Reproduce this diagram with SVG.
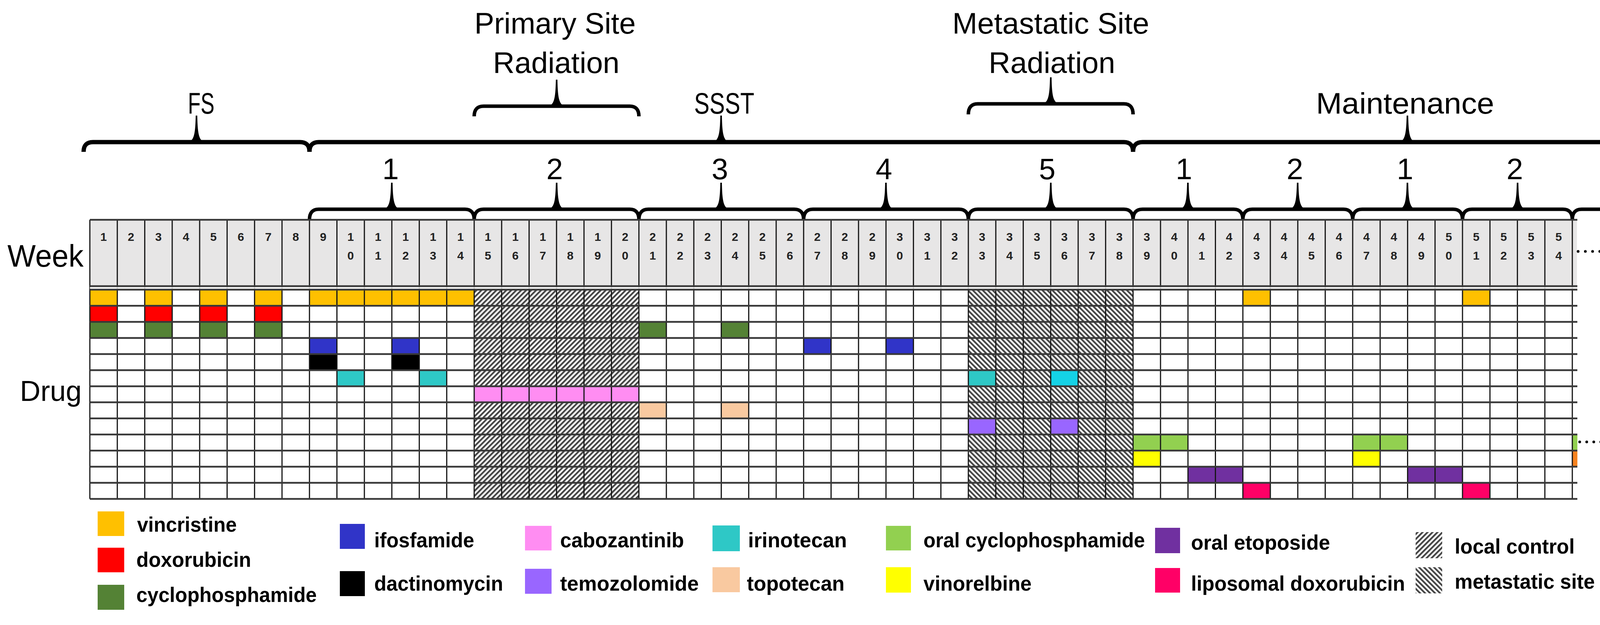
<svg xmlns="http://www.w3.org/2000/svg" width="4366" height="1601" viewBox="0 0 4366 1601">
<style>
.lbl{font-family:"Liberation Sans",Arial,sans-serif;font-size:76px;text-anchor:middle;fill:#000}
.side{font-family:"Liberation Sans",Arial,sans-serif;fill:#000}
.wk{font-family:"Liberation Sans",Arial,sans-serif;font-size:30px;font-weight:bold;text-anchor:middle;fill:#222}
.lg{font-family:"Liberation Sans",Arial,sans-serif;font-size:54px;font-weight:bold;fill:#000}
.br{fill:none;stroke:#000;stroke-width:9}
.big{stroke-width:11}
.hl{fill:none;stroke:#383838;stroke-width:4.5}
.vl{fill:none;stroke:#161616;stroke-width:3}
.hdr{fill:#E7E6E6}
.vin{fill:#FFC000}.dox{fill:#FF0000}.cyc{fill:#548235}.ifo{fill:#3034C8}.dac{fill:#000}
.iri{fill:#2EC8C6}.iri2{fill:#14D2E6}.cab{fill:#FF8DF2}.top{fill:#F9C9A0}.tem{fill:#9966FF}
.ocy{fill:#92D050}.vnr{fill:#FFFF00}.eto{fill:#7030A0}.lip{fill:#FF0066}.org{fill:#F5821F}
</style>
<defs>
<path id="tip" d="M-24,2 C-8,-4 -3,-12 -2,-68 L2,-68 C3,-12 8,-4 24,2 Z" fill="#000"/>
<pattern id="hLocal" patternUnits="userSpaceOnUse" width="9" height="9" patternTransform="rotate(45)"><rect width="9" height="9" fill="#fff"/><rect width="4.5" height="9" fill="#444"/></pattern>
<pattern id="hMeta" patternUnits="userSpaceOnUse" width="9" height="9" patternTransform="rotate(-45)"><rect width="9" height="9" fill="#fff"/><rect width="4.5" height="9" fill="#444"/></pattern>
</defs>
<rect width="4366" height="1601" fill="#fff"/>

<g id="phase-fs">
<path class="br big" d="M214,389 Q214,364 238,364 L768,364 Q792.24,364 792.24,389"/>
<use href="#tip" x="503" y="364"/>
<text class="lbl" x="515" y="291" textLength="68" lengthAdjust="spacingAndGlyphs">FS</text>
</g>
<g id="phase-primary-radiation">
<path class="br" d="M1213.92,298 Q1213.92,272 1238,272 L1612,272 Q1635.6,272 1635.6,298"/>
<use href="#tip" x="1425" y="272"/>
<text class="lbl" x="1421" y="86" textLength="413" lengthAdjust="spacingAndGlyphs">Primary Site</text>
<text class="lbl" x="1424" y="187" textLength="324" lengthAdjust="spacingAndGlyphs">Radiation</text>
</g>
<g id="phase-ssst">
<path class="br big" d="M792.24,389 Q792.24,364 816,364 L2877,364 Q2900.64,364 2900.64,389"/>
<use href="#tip" x="1846" y="364"/>
<text class="lbl" x="1854" y="291" textLength="154" lengthAdjust="spacingAndGlyphs">SSST</text>
</g>
<g id="phase-metastatic-radiation">
<path class="br" d="M2478.96,293 Q2478.96,266 2503,266 L2877,266 Q2900.64,266 2900.64,293"/>
<use href="#tip" x="2690" y="266"/>
<text class="lbl" x="2690" y="86" textLength="504" lengthAdjust="spacingAndGlyphs">Metastatic Site</text>
<text class="lbl" x="2693" y="187" textLength="324" lengthAdjust="spacingAndGlyphs">Radiation</text>
</g>
<g id="phase-maintenance">
<path class="br big" d="M2900.64,389 Q2900.64,364 2925,364 L4282,364 Q4306,364 4306,389"/>
<use href="#tip" x="3603" y="364"/>
<text class="lbl" x="3597" y="291" textLength="456" lengthAdjust="spacingAndGlyphs">Maintenance</text>
</g>

<g id="cycle-ssst-1"><path class="br" d="M792.24,563 Q792.24,536 816,536 L1190,536 Q1213.92,536 1213.92,563"/><use href="#tip" x="1003" y="536"/><text class="lbl" x="1000" y="459">1</text></g>
<g id="cycle-ssst-2"><path class="br" d="M1213.92,563 Q1213.92,536 1238,536 L1612,536 Q1635.6,536 1635.6,563"/><use href="#tip" x="1425" y="536"/><text class="lbl" x="1420" y="459">2</text></g>
<g id="cycle-ssst-3"><path class="br" d="M1635.6,563 Q1635.6,536 1660,536 L2033,536 Q2057.28,536 2057.28,563"/><use href="#tip" x="1846" y="536"/><text class="lbl" x="1843" y="459">3</text></g>
<g id="cycle-ssst-4"><path class="br" d="M2057.28,563 Q2057.28,536 2081,536 L2455,536 Q2478.96,536 2478.96,563"/><use href="#tip" x="2268" y="536"/><text class="lbl" x="2263" y="459">4</text></g>
<g id="cycle-ssst-5"><path class="br" d="M2478.96,563 Q2478.96,536 2503,536 L2877,536 Q2900.64,536 2900.64,563"/><use href="#tip" x="2690" y="536"/><text class="lbl" x="2681" y="459">5</text></g>
<g id="cycle-maint-1a"><path class="br" d="M2900.64,563 Q2900.64,536 2925,536 L3158,536 Q3181.76,536 3181.76,563"/><use href="#tip" x="3041" y="536"/><text class="lbl" x="3031" y="459">1</text></g>
<g id="cycle-maint-2a"><path class="br" d="M3181.76,563 Q3181.76,536 3206,536 L3439,536 Q3462.88,536 3462.88,563"/><use href="#tip" x="3322" y="536"/><text class="lbl" x="3315" y="459">2</text></g>
<g id="cycle-maint-1b"><path class="br" d="M3462.88,563 Q3462.88,536 3487,536 L3720,536 Q3744,536 3744,563"/><use href="#tip" x="3603" y="536"/><text class="lbl" x="3597" y="459">1</text></g>
<g id="cycle-maint-2b"><path class="br" d="M3744,563 Q3744,536 3768,536 L4001,536 Q4025.12,536 4025.12,563"/><use href="#tip" x="3885" y="536"/><text class="lbl" x="3878" y="459">2</text></g>
<g id="cycle-maint-2c"><path class="br" d="M4025.12,563 Q4025.12,536 4049,536 L4282,536 Q4306,536 4306,563"/><use href="#tip" x="4166" y="536"/><text class="lbl" x="4161" y="459">2</text></g>

<g id="row-labels">
<text class="side" x="19" y="683" font-size="80" textLength="195" lengthAdjust="spacingAndGlyphs">Week</text>
<text class="side" x="51" y="1027" font-size="75" textLength="158" lengthAdjust="spacingAndGlyphs">Drug</text>
</g>

<g id="week-header">
<rect class="hdr" x="230" y="563" width="3807" height="172"/>
<rect class="hdr" x="4148" y="563" width="159" height="172"/>
<line x1="4040" y1="644" x2="4156" y2="644" stroke="#000" stroke-width="7" stroke-linecap="round" stroke-dasharray="0 18.5"/>
<g class="wk">
<text x="265.14" y="617">1</text><text x="335.42" y="617">2</text><text x="405.7" y="617">3</text><text x="475.98" y="617">4</text><text x="546.26" y="617">5</text><text x="616.54" y="617">6</text><text x="686.82" y="617">7</text><text x="757.1" y="617">8</text><text x="827.38" y="617">9</text>
<text x="897.66" y="617">1<tspan x="897.66" dy="48">0</tspan></text>
<text x="967.94" y="617">1<tspan x="967.94" dy="48">1</tspan></text>
<text x="1038.22" y="617">1<tspan x="1038.22" dy="48">2</tspan></text>
<text x="1108.5" y="617">1<tspan x="1108.5" dy="48">3</tspan></text>
<text x="1178.78" y="617">1<tspan x="1178.78" dy="48">4</tspan></text>
<text x="1249.06" y="617">1<tspan x="1249.06" dy="48">5</tspan></text>
<text x="1319.34" y="617">1<tspan x="1319.34" dy="48">6</tspan></text>
<text x="1389.62" y="617">1<tspan x="1389.62" dy="48">7</tspan></text>
<text x="1459.9" y="617">1<tspan x="1459.9" dy="48">8</tspan></text>
<text x="1530.18" y="617">1<tspan x="1530.18" dy="48">9</tspan></text>
<text x="1600.46" y="617">2<tspan x="1600.46" dy="48">0</tspan></text>
<text x="1670.74" y="617">2<tspan x="1670.74" dy="48">1</tspan></text>
<text x="1741.02" y="617">2<tspan x="1741.02" dy="48">2</tspan></text>
<text x="1811.3" y="617">2<tspan x="1811.3" dy="48">3</tspan></text>
<text x="1881.58" y="617">2<tspan x="1881.58" dy="48">4</tspan></text>
<text x="1951.86" y="617">2<tspan x="1951.86" dy="48">5</tspan></text>
<text x="2022.14" y="617">2<tspan x="2022.14" dy="48">6</tspan></text>
<text x="2092.42" y="617">2<tspan x="2092.42" dy="48">7</tspan></text>
<text x="2162.7" y="617">2<tspan x="2162.7" dy="48">8</tspan></text>
<text x="2232.98" y="617">2<tspan x="2232.98" dy="48">9</tspan></text>
<text x="2303.26" y="617">3<tspan x="2303.26" dy="48">0</tspan></text>
<text x="2373.54" y="617">3<tspan x="2373.54" dy="48">1</tspan></text>
<text x="2443.82" y="617">3<tspan x="2443.82" dy="48">2</tspan></text>
<text x="2514.1" y="617">3<tspan x="2514.1" dy="48">3</tspan></text>
<text x="2584.38" y="617">3<tspan x="2584.38" dy="48">4</tspan></text>
<text x="2654.66" y="617">3<tspan x="2654.66" dy="48">5</tspan></text>
<text x="2724.94" y="617">3<tspan x="2724.94" dy="48">6</tspan></text>
<text x="2795.22" y="617">3<tspan x="2795.22" dy="48">7</tspan></text>
<text x="2865.5" y="617">3<tspan x="2865.5" dy="48">8</tspan></text>
<text x="2935.78" y="617">3<tspan x="2935.78" dy="48">9</tspan></text>
<text x="3006.06" y="617">4<tspan x="3006.06" dy="48">0</tspan></text>
<text x="3076.34" y="617">4<tspan x="3076.34" dy="48">1</tspan></text>
<text x="3146.62" y="617">4<tspan x="3146.62" dy="48">2</tspan></text>
<text x="3216.9" y="617">4<tspan x="3216.9" dy="48">3</tspan></text>
<text x="3287.18" y="617">4<tspan x="3287.18" dy="48">4</tspan></text>
<text x="3357.46" y="617">4<tspan x="3357.46" dy="48">5</tspan></text>
<text x="3427.74" y="617">4<tspan x="3427.74" dy="48">6</tspan></text>
<text x="3498.02" y="617">4<tspan x="3498.02" dy="48">7</tspan></text>
<text x="3568.3" y="617">4<tspan x="3568.3" dy="48">8</tspan></text>
<text x="3638.58" y="617">4<tspan x="3638.58" dy="48">9</tspan></text>
<text x="3708.86" y="617">5<tspan x="3708.86" dy="48">0</tspan></text>
<text x="3779.14" y="617">5<tspan x="3779.14" dy="48">1</tspan></text>
<text x="3849.42" y="617">5<tspan x="3849.42" dy="48">2</tspan></text>
<text x="3919.7" y="617">5<tspan x="3919.7" dy="48">3</tspan></text>
<text x="3989.98" y="617">5<tspan x="3989.98" dy="48">4</tspan></text>
<text x="4200.25" y="617">1<tspan x="4200.25" dy="48">0</tspan><tspan x="4200.25" dy="48">3</tspan></text>
<text x="4270.75" y="617">1<tspan x="4270.75" dy="48">0</tspan><tspan x="4270.75" dy="48">4</tspan></text>
</g>
</g>

<g id="drug-cells">
<rect id="local-control-area" x="1213.92" y="742" width="421.68" height="536" fill="url(#hLocal)"/>
<rect id="metastatic-control-area" x="2478.96" y="742" width="421.68" height="536" fill="url(#hMeta)"/>
<g class="vin">
<rect x="230" y="742" width="70.28" height="41.23"/><rect x="370.56" y="742" width="70.28" height="41.23"/><rect x="511.12" y="742" width="70.28" height="41.23"/><rect x="651.68" y="742" width="70.28" height="41.23"/>
<rect x="792.24" y="742" width="421.68" height="41.23"/>
<rect x="3181.76" y="742" width="70.28" height="41.23"/><rect x="3744" y="742" width="70.28" height="41.23"/>
</g>
<g class="dox">
<rect x="230" y="783.23" width="70.28" height="41.23"/><rect x="370.56" y="783.23" width="70.28" height="41.23"/><rect x="511.12" y="783.23" width="70.28" height="41.23"/><rect x="651.68" y="783.23" width="70.28" height="41.23"/>
</g>
<g class="cyc">
<rect x="230" y="824.46" width="70.28" height="41.23"/><rect x="370.56" y="824.46" width="70.28" height="41.23"/><rect x="511.12" y="824.46" width="70.28" height="41.23"/><rect x="651.68" y="824.46" width="70.28" height="41.23"/>
<rect x="1635.6" y="824.46" width="70.28" height="41.23"/><rect x="1846.44" y="824.46" width="70.28" height="41.23"/>
</g>
<g class="ifo">
<rect x="792.24" y="865.69" width="70.28" height="41.23"/><rect x="1003.08" y="865.69" width="70.28" height="41.23"/><rect x="2057.28" y="865.69" width="70.28" height="41.23"/><rect x="2268.12" y="865.69" width="70.28" height="41.23"/>
</g>
<g class="dac">
<rect x="792.24" y="906.92" width="70.28" height="41.23"/><rect x="1003.08" y="906.92" width="70.28" height="41.23"/>
</g>
<g class="iri">
<rect x="862.52" y="948.15" width="70.28" height="41.23"/><rect x="1073.36" y="948.15" width="70.28" height="41.23"/><rect x="2478.96" y="948.15" width="70.28" height="41.23"/>
</g>
<rect class="iri2" x="2689.8" y="948.15" width="70.28" height="41.23"/>
<rect class="cab" x="1213.92" y="989.38" width="421.68" height="41.23"/>
<g class="top">
<rect x="1635.6" y="1030.61" width="70.28" height="41.23"/><rect x="1846.44" y="1030.61" width="70.28" height="41.23"/>
</g>
<g class="tem">
<rect x="2478.96" y="1071.84" width="70.28" height="41.23"/><rect x="2689.8" y="1071.84" width="70.28" height="41.23"/>
</g>
<g class="ocy">
<rect x="2900.64" y="1113.07" width="140.56" height="41.23"/><rect x="3462.88" y="1113.07" width="140.56" height="41.23"/>
<rect x="4025.12" y="1113.07" width="13" height="41.23"/><rect x="4148" y="1113.07" width="17" height="41.23"/>
</g>
<g class="vnr">
<rect x="2900.64" y="1154.3" width="70.28" height="41.23"/><rect x="3462.88" y="1154.3" width="70.28" height="41.23"/>
</g>
<rect class="org" x="4025.12" y="1154.3" width="13" height="41.23"/>
<g class="eto">
<rect x="3041.2" y="1195.53" width="140.56" height="41.23"/><rect x="3603.44" y="1195.53" width="140.56" height="41.23"/><rect x="4165" y="1195.53" width="141" height="41.23"/>
</g>
<g class="lip">
<rect x="3181.76" y="1236.76" width="70.28" height="41.23"/><rect x="3744" y="1236.76" width="70.28" height="41.23"/>
</g>
<line x1="4044" y1="1132" x2="4152" y2="1132" stroke="#000" stroke-width="7" stroke-linecap="round" stroke-dasharray="0 18"/>
</g>

<g id="grid-lines">
<path class="vl" d="M230 563V1278M300.28 563V1278M370.56 563V1278M440.84 563V1278M511.12 563V1278M581.4 563V1278M651.68 563V1278M721.96 563V1278M792.24 563V1278M862.52 563V1278M932.8 563V1278M1003.08 563V1278M1073.36 563V1278M1143.64 563V1278M1213.92 563V1278M1284.2 563V1278M1354.48 563V1278M1424.76 563V1278M1495.04 563V1278M1565.32 563V1278M1635.6 563V1278M1705.88 563V1278M1776.16 563V1278M1846.44 563V1278M1916.72 563V1278M1987 563V1278M2057.28 563V1278M2127.56 563V1278M2197.84 563V1278M2268.12 563V1278M2338.4 563V1278M2408.68 563V1278M2478.96 563V1278M2549.24 563V1278M2619.52 563V1278M2689.8 563V1278M2760.08 563V1278M2830.36 563V1278M2900.64 563V1278M2970.92 563V1278M3041.2 563V1278M3111.48 563V1278M3181.76 563V1278M3252.04 563V1278M3322.32 563V1278M3392.6 563V1278M3462.88 563V1278M3533.16 563V1278M3603.44 563V1278M3673.72 563V1278M3744 563V1278M3814.28 563V1278M3884.56 563V1278M3954.84 563V1278M4025.12 563V1278M4165 563V1278M4235.5 563V1278M4306 563V1278"/>
<path d="M230 737.5H4038M4148 737.5H4307" stroke="#f4f4f4" stroke-width="4"/>
<path class="hl" d="M230 563H4038M230 733H4038M230 742H4038M230 783.23H4038M230 824.46H4038M230 865.69H4038M230 906.92H4038M230 948.15H4038M230 989.38H4038M230 1030.61H4038M230 1071.84H4038M230 1113.07H4038M230 1154.3H4038M230 1195.53H4038M230 1236.76H4038M230 1278H4038"/>
<path class="hl" d="M4148 563H4307M4148 733H4307M4148 742H4307M4148 783.23H4307M4148 824.46H4307M4148 865.69H4307M4148 906.92H4307M4148 948.15H4307M4148 989.38H4307M4148 1030.61H4307M4148 1071.84H4307M4148 1113.07H4307M4148 1154.3H4307M4148 1195.53H4307M4148 1236.76H4307M4148 1278H4307"/>
</g>

<g id="legend">
<g id="lg-vincristine"><rect class="vin" x="250" y="1310" width="68" height="63"/><text class="lg" x="351" y="1362" textLength="255" lengthAdjust="spacingAndGlyphs">vincristine</text></g>
<g id="lg-doxorubicin"><rect class="dox" x="250" y="1403" width="68" height="63"/><text class="lg" x="349" y="1452" textLength="294" lengthAdjust="spacingAndGlyphs">doxorubicin</text></g>
<g id="lg-cyclophosphamide"><rect class="cyc" x="250" y="1498" width="68" height="64"/><text class="lg" x="349" y="1542" textLength="462" lengthAdjust="spacingAndGlyphs">cyclophosphamide</text></g>
<g id="lg-ifosfamide"><rect class="ifo" x="870" y="1342" width="64" height="64"/><text class="lg" x="958" y="1402" textLength="256" lengthAdjust="spacingAndGlyphs">ifosfamide</text></g>
<g id="lg-dactinomycin"><rect class="dac" x="870" y="1463" width="64" height="64"/><text class="lg" x="958" y="1513" textLength="330" lengthAdjust="spacingAndGlyphs">dactinomycin</text></g>
<g id="lg-cabozantinib"><rect class="cab" x="1344" y="1347" width="68" height="63"/><text class="lg" x="1434" y="1402" textLength="317" lengthAdjust="spacingAndGlyphs">cabozantinib</text></g>
<g id="lg-temozolomide"><rect class="tem" x="1344" y="1457" width="68" height="64"/><text class="lg" x="1434" y="1513" textLength="355" lengthAdjust="spacingAndGlyphs">temozolomide</text></g>
<g id="lg-irinotecan"><rect class="iri" x="1824" y="1346" width="70" height="66"/><text class="lg" x="1915" y="1402" textLength="253" lengthAdjust="spacingAndGlyphs">irinotecan</text></g>
<g id="lg-topotecan"><rect class="top" x="1824" y="1453" width="70" height="64"/><text class="lg" x="1912" y="1513" textLength="250" lengthAdjust="spacingAndGlyphs">topotecan</text></g>
<g id="lg-oral-cyclophosphamide"><rect class="ocy" x="2268" y="1347" width="64" height="63"/><text class="lg" x="2364" y="1402" textLength="567" lengthAdjust="spacingAndGlyphs">oral cyclophosphamide</text></g>
<g id="lg-vinorelbine"><rect class="vnr" x="2268" y="1453" width="64" height="65"/><text class="lg" x="2364" y="1513" textLength="277" lengthAdjust="spacingAndGlyphs">vinorelbine</text></g>
<g id="lg-oral-etoposide"><rect class="eto" x="2957" y="1352" width="64" height="65"/><text class="lg" x="3049" y="1408" textLength="356" lengthAdjust="spacingAndGlyphs">oral etoposide</text></g>
<g id="lg-liposomal-doxorubicin"><rect class="lip" x="2957" y="1455" width="64" height="63"/><text class="lg" x="3049" y="1513" textLength="548" lengthAdjust="spacingAndGlyphs">liposomal doxorubicin</text></g>
<g id="lg-local-control"><rect x="3624" y="1363" width="68" height="67" fill="url(#hLocal)"/><text class="lg" x="3724" y="1418" textLength="307" lengthAdjust="spacingAndGlyphs">local control</text></g>
<g id="lg-metastatic-site-control"><rect x="3624" y="1453" width="68" height="67" fill="url(#hMeta)"/><text class="lg" x="3724" y="1508" textLength="548" lengthAdjust="spacingAndGlyphs">metastatic site control</text></g>
</g>
</svg>
